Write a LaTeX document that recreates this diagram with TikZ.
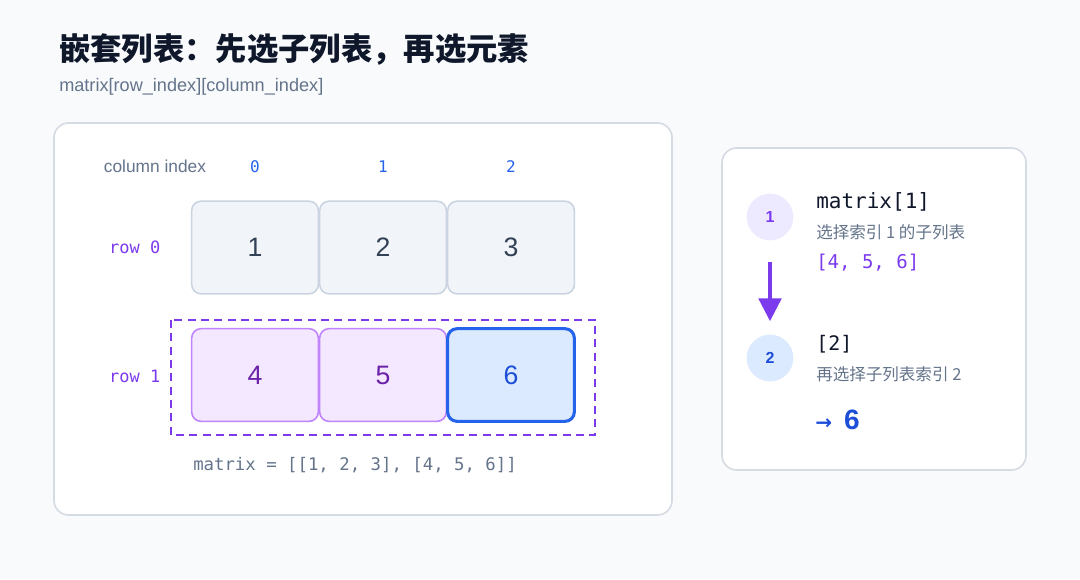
\documentclass[tikz,border=0pt]{standalone}
\usepackage{fontspec}
\setmainfont{Liberation Sans}
\newfontfamily\cjk{Noto Sans CJK SC}
\newfontfamily\mono{DejaVu Sans Mono}
\newfontfamily\sym{DejaVu Sans}
\usetikzlibrary{arrows.meta}
\definecolor{bg}{HTML}{F8FAFC}
\definecolor{ink}{HTML}{0F172A}
\definecolor{muted}{HTML}{64748B}
\definecolor{pborder}{HTML}{D5DBE3}
\definecolor{cellfill}{HTML}{F1F5F9}
\definecolor{cellline}{HTML}{CBD5E1}
\definecolor{celltext}{HTML}{334155}
\definecolor{lpurple}{HTML}{F3E8FF}
\definecolor{mpurple}{HTML}{C084FC}
\definecolor{purple}{HTML}{7C3AED}
\definecolor{dpurple}{HTML}{6B21A8}
\definecolor{lblue}{HTML}{DBEAFE}
\definecolor{blue}{HTML}{2563EB}
\definecolor{dblue}{HTML}{1D4ED8}
\definecolor{lviolet}{HTML}{EDE9FE}
\tikzset{
  panel/.style={draw=pborder, line width=1.2pt, fill=white, rounded corners=11pt},
  cell/.style={draw=cellline, line width=1.2pt, fill=cellfill, rounded corners=7pt,
    minimum width=95pt, minimum height=69.5pt, inner sep=0pt,
    font=\fontsize{20}{22}\selectfont, text=celltext},
  pcell/.style={cell, draw=mpurple, fill=lpurple, text=dpurple},
  bcell/.style={cell, draw=blue, fill=lblue, text=dblue, line width=2.3pt},
  colidx/.style={font=\mono\fontsize{12}{14}\selectfont, text=blue},
  rowlbl/.style={anchor=east, font=\mono\fontsize{12.75}{15}\selectfont, text=purple},
  stepnum/.style={circle, minimum size=35pt, inner sep=0pt, font=\bfseries\fontsize{12}{14}\selectfont},
  codeline/.style={anchor=west, inner sep=0pt, font=\mono\fontsize{15.75}{18}\selectfont, text=ink},
  note/.style={anchor=west, inner sep=0pt, font=\cjk\fontsize{12.4}{14}\selectfont, text=muted},
}
\begin{document}
\begin{tikzpicture}[x=0.75pt, y=-0.75pt]
\useasboundingbox (0,0) rectangle (1080,579);
\fill[bg] (0,0) rectangle (1080,579);

% title
\node[anchor=west, inner sep=0pt, font=\cjk\bfseries\fontsize{23.5}{27}\selectfont, text=ink] (title) at (59,50) {嵌套列表：先选子列表，再选元素};
\node[anchor=west, inner sep=0pt, font=\fontsize{13.6}{16}\selectfont, text=muted] (subtitle) at (59,87) {matrix[row\_index][column\_index]};

% left panel
\draw[panel] (54,123) rectangle (672,515);
\node[font=\fontsize{13}{15}\selectfont, text=muted] (colhead) at (155,166) {column index};
\node[colidx] (ci0) at (255,167) {0};
\node[colidx] (ci1) at (383,167) {1};
\node[colidx] (ci2) at (511,167) {2};

\node[rowlbl] (r0) at (165,247) {row 0};
\node[rowlbl] (r1) at (165,376) {row 1};

\node[cell] (c1) at (255,247.5) {1};
\node[cell] (c2) at (383,247.5) {2};
\node[cell] (c3) at (511,247.5) {3};

\draw[purple, line width=2pt, dash pattern=on 6pt off 4pt] (171,320) rectangle (595,435);
\node[pcell] (c4) at (255,375) {4};
\node[pcell] (c5) at (383,375) {5};
\node[bcell] (c6) at (511,375) {6};

\node[font=\mono\fontsize{13}{15}\selectfont, text=muted] (code) at (355,465) {matrix = [[1, 2, 3], [4, 5, 6]]};

% right panel
\draw[panel] (722,148) rectangle (1026,470);
\node[stepnum, fill=lviolet, text=purple] (s1) at (770,217) {1};
\node[stepnum, fill=lblue, text=dblue] (s2) at (770,358) {2};
\draw[purple, line width=2.3pt, shorten <=16pt, shorten >=10pt, -{Triangle[length=17pt,width=17pt]}] (s1) -- (s2);

\node[codeline] (m1) at (816,202) {matrix[1]};
\node[note] (n1) at (816,232) {选择索引 1 的子列表};
\node[codeline, font=\mono\fontsize{14.25}{17}\selectfont, text=purple] (sub) at (816,263) {[4, 5, 6]};
\node[codeline, font=\mono\fontsize{15}{18}\selectfont] (m2) at (816,344) {[2]};
\node[note] (n2) at (816,374) {再选择子列表索引 2};
\node[anchor=west, inner sep=0pt, text=dblue] (res) at (815,420) {{\sym\bfseries\fontsize{15}{18}\selectfont →}\hspace{9pt}{\bfseries\fontsize{21}{24}\selectfont 6}};
\end{tikzpicture}
\end{document}
